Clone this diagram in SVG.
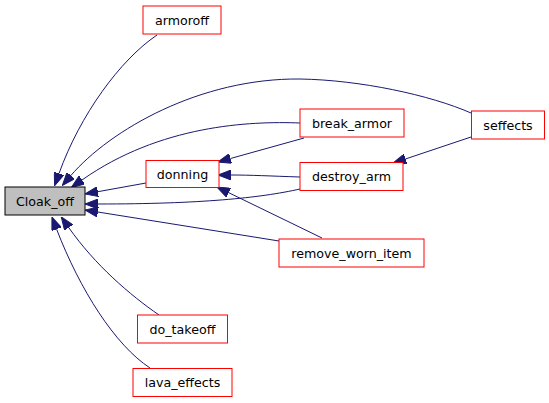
<svg xmlns="http://www.w3.org/2000/svg" width="549" height="403" viewBox="0 0 549 403">
<defs>
<style>
.n rect{fill:#ffffff;stroke:#ff0000;stroke-width:1}
.n text{font-family:"DejaVu Sans",sans-serif;font-size:12.67px;fill:#000000;text-anchor:middle}
#Cloak_off rect{fill:#bfbfbf;stroke:#000000}
.e path{fill:none;stroke:#191970;stroke-width:1;marker-end:url(#ah)}
</style>
<marker id="ah" markerUnits="userSpaceOnUse" markerWidth="13" markerHeight="10" viewBox="0 0 13 10" refX="0" refY="5" orient="auto">
<path d="M0,0 L13,5 L0,10 z" fill="#191970" stroke="#191970"/>
</marker>
</defs>
<rect width="549" height="403" fill="#ffffff"/>
<g id="edges" class="e">
<path d="M157,35 C120,60 80,115 59,173.5"/>
<path d="M471,113 C430,95 360,80 300,79 C200,78 110,130 70.8,175.6"/>
<path d="M300,123 C250,121 160,125 82,180"/>
<path d="M146,183 L97.8,191.7"/>
<path d="M300,189 C260,198 200,204 98,204"/>
<path d="M279,241 L97.8,212"/>
<path d="M159,315 C130,295 95,265 68.7,227.5"/>
<path d="M150,368 C115,345 80,290 56.6,229.2"/>
<path d="M304,138 L230.5,158.5"/>
<path d="M300,177 C270,176 250,175 231,175"/>
<path d="M322,238 L228.7,192.7"/>
<path d="M471,137 L405.4,159"/>
</g>
<g id="Cloak_off" class="n"><rect x="5" y="187" width="80" height="28"/><text x="45" y="205.5">Cloak_off</text></g>
<g id="armoroff" class="n"><rect x="143" y="6" width="78" height="28"/><text x="182" y="24.5">armoroff</text></g>
<g id="donning" class="n"><rect x="146" y="160.5" width="73" height="27"/><text x="182.5" y="178.5">donning</text></g>
<g id="break_armor" class="n"><rect x="300" y="109" width="104" height="28"/><text x="352" y="127.5">break_armor</text></g>
<g id="destroy_arm" class="n"><rect x="300" y="162.5" width="103" height="28"/><text x="351.5" y="181">destroy_arm</text></g>
<g id="remove_worn_item" class="n"><rect x="279" y="239" width="145" height="28"/><text x="351.5" y="257.5">remove_worn_item</text></g>
<g id="seffects" class="n"><rect x="471.5" y="111" width="73" height="28"/><text x="508" y="129.5">seffects</text></g>
<g id="do_takeoff" class="n"><rect x="137.5" y="315" width="90" height="28"/><text x="182.5" y="333.5">do_takeoff</text></g>
<g id="lava_effects" class="n"><rect x="133" y="368.5" width="99" height="28"/><text x="182.5" y="387">lava_effects</text></g>
</svg>
